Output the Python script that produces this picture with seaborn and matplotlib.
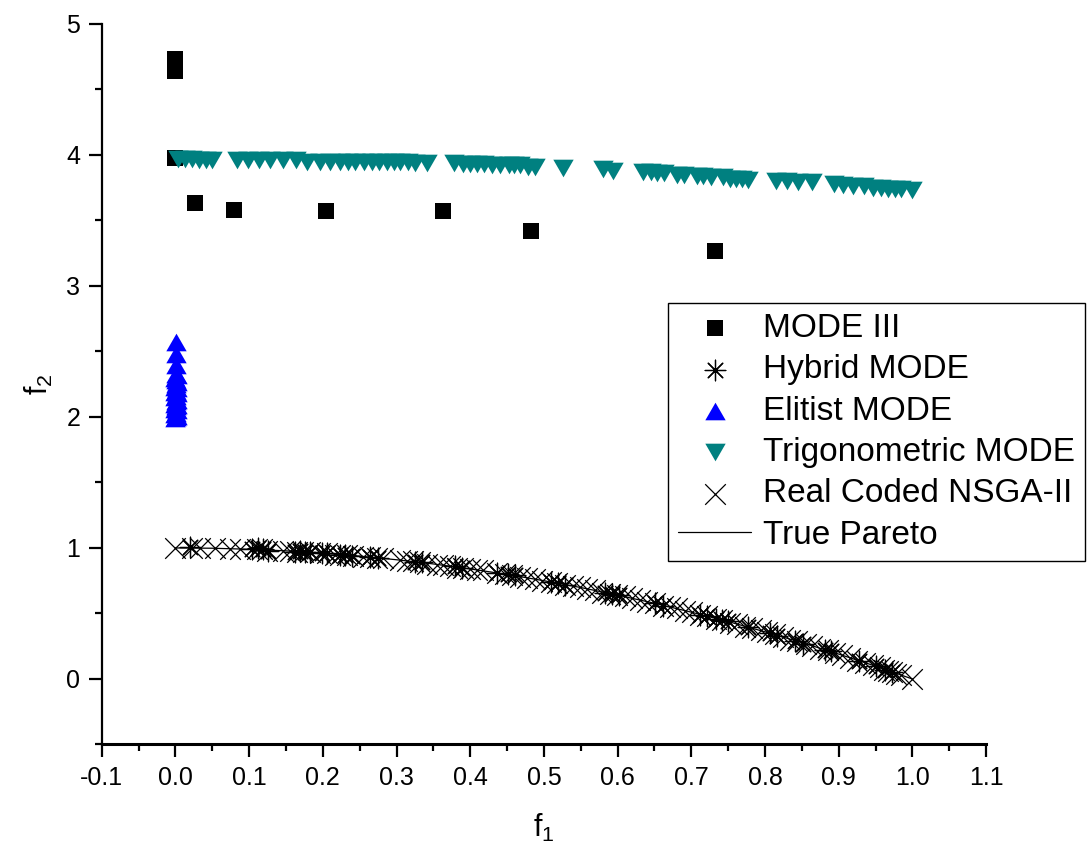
import matplotlib
matplotlib.use("Agg")
import matplotlib.pyplot as plt
from matplotlib.ticker import MultipleLocator, FormatStrFormatter
import seaborn as sns

# ---- data -------------------------------------------------------------
mode3_f1 = [0.0, 0.0, 0.0, 0.027, 0.080, 0.204, 0.363, 0.483, 0.732]
mode3_f2 = [4.73, 4.64, 3.98, 3.63, 3.58, 3.57, 3.57, 3.42, 3.27]

hybrid_f1 = [0.020, 0.104, 0.112, 0.119, 0.126, 0.162, 0.169, 0.176, 0.183,
             0.199, 0.206, 0.223, 0.230, 0.240, 0.264, 0.275, 0.325, 0.335,
             0.380, 0.389, 0.437, 0.451, 0.461, 0.509, 0.519, 0.529, 0.583,
             0.593, 0.602, 0.651, 0.661, 0.712, 0.722, 0.733, 0.742, 0.750,
             0.777, 0.807, 0.816, 0.841, 0.852, 0.882, 0.889, 0.927, 0.951,
             0.963, 0.973]
hybrid_f2 = [1.01, 0.99, 1.00, 0.99, 0.98, 0.97, 0.98, 0.97, 0.97,
             0.96, 0.96, 0.95, 0.95, 0.94, 0.93, 0.92, 0.89, 0.89,
             0.86, 0.85, 0.81, 0.80, 0.79, 0.74, 0.73, 0.72, 0.66,
             0.65, 0.64, 0.58, 0.56, 0.49, 0.48, 0.46, 0.45, 0.44,
             0.40, 0.35, 0.33, 0.29, 0.27, 0.22, 0.21, 0.14, 0.10,
             0.07, 0.05]

elitist_f1 = [0.000, 0.001, 0.002, 0.000, 0.001, 0.002, 0.000, 0.001, 0.002,
              0.000, 0.001, 0.002, 0.000, 0.001, 0.002, 0.000, 0.001, 0.002,
              0.000, 0.001, 0.002, 0.001, 0.000, 0.002, 0.001, 0.001, 0.001,
              0.001]
elitist_f2 = [1.99, 2.00, 2.01, 2.02, 2.03, 2.05, 2.06, 2.08, 2.09,
              2.10, 2.12, 2.13, 2.15, 2.16, 2.18, 2.19, 2.20, 2.22,
              2.23, 2.25, 2.27, 2.28, 2.30, 2.32, 2.33, 2.40, 2.48,
              2.57]

trig_f1 = [0.004, 0.013, 0.023, 0.032, 0.042, 0.050,
           0.084, 0.099, 0.113, 0.128, 0.146, 0.164, 0.179, 0.196, 0.210,
           0.223, 0.234, 0.244, 0.256, 0.267, 0.276, 0.287, 0.297, 0.305,
           0.316, 0.325, 0.342,
           0.378, 0.390, 0.400, 0.409, 0.419, 0.430, 0.441, 0.452, 0.460,
           0.468, 0.479, 0.488,
           0.526,
           0.580, 0.594,
           0.635, 0.645, 0.654, 0.663, 0.681, 0.690, 0.708, 0.716, 0.727,
           0.743, 0.753, 0.761, 0.769, 0.777,
           0.815, 0.830, 0.845, 0.864,
           0.893, 0.906, 0.920, 0.935, 0.946, 0.957, 0.967, 0.976, 0.985,
           1.000]
trig_f2 = [3.97, 3.97, 3.97, 3.96, 3.96, 3.96,
           3.96, 3.96, 3.96, 3.96, 3.96, 3.96, 3.95, 3.95, 3.95,
           3.95, 3.95, 3.95, 3.95, 3.95, 3.95, 3.95, 3.95, 3.95,
           3.95, 3.94, 3.94,
           3.94, 3.93, 3.93, 3.93, 3.93, 3.92, 3.92, 3.92, 3.92,
           3.92, 3.91, 3.91,
           3.90,
           3.89, 3.88,
           3.87, 3.87, 3.86, 3.86, 3.85, 3.85, 3.84, 3.84, 3.83,
           3.83, 3.82, 3.82, 3.82, 3.81,
           3.80, 3.80, 3.79, 3.79,
           3.78, 3.77, 3.76, 3.76, 3.75, 3.75, 3.74, 3.74, 3.74,
           3.73]

nsga_f1 = [0.000, 0.023, 0.033, 0.054, 0.074, 0.088, 0.111, 0.117, 0.124,
           0.146, 0.156, 0.165, 0.173, 0.183, 0.196, 0.206, 0.217, 0.224,
           0.233, 0.241, 0.255, 0.264, 0.274, 0.282, 0.305, 0.314, 0.322,
           0.332, 0.342, 0.355, 0.363, 0.373, 0.382, 0.390, 0.400, 0.409,
           0.418, 0.437, 0.447, 0.457, 0.468, 0.477, 0.488, 0.498, 0.509,
           0.518, 0.529, 0.539, 0.549, 0.559, 0.570, 0.579, 0.590, 0.599,
           0.610, 0.620, 0.631, 0.640, 0.651, 0.661, 0.671, 0.681, 0.692,
           0.701, 0.712, 0.722, 0.733, 0.742, 0.753, 0.762, 0.773, 0.783,
           0.794, 0.803, 0.814, 0.824, 0.834, 0.844, 0.855, 0.864, 0.875,
           0.885, 0.895, 0.905, 0.916, 0.925, 0.936, 0.946, 0.956, 0.962,
           0.967, 0.973, 0.978, 0.984, 1.000]
nsga_f2 = [1.00, 1.00, 1.00, 1.00, 0.99, 0.99, 0.99, 0.99, 0.98,
           0.98, 0.98, 0.97, 0.97, 0.97, 0.96, 0.96, 0.95, 0.95,
           0.95, 0.94, 0.93, 0.93, 0.92, 0.92, 0.91, 0.90, 0.90,
           0.89, 0.88, 0.87, 0.87, 0.86, 0.85, 0.85, 0.84, 0.83,
           0.83, 0.81, 0.80, 0.79, 0.78, 0.77, 0.76, 0.75, 0.74,
           0.73, 0.72, 0.71, 0.70, 0.69, 0.68, 0.66, 0.65, 0.64,
           0.63, 0.62, 0.60, 0.59, 0.58, 0.56, 0.55, 0.54, 0.52,
           0.51, 0.49, 0.48, 0.46, 0.45, 0.43, 0.42, 0.40, 0.39,
           0.37, 0.36, 0.34, 0.32, 0.30, 0.29, 0.27, 0.25, 0.23,
           0.22, 0.20, 0.18, 0.16, 0.14, 0.12, 0.11, 0.09, 0.07,
           0.06, 0.05, 0.04, 0.03, 0.00]

pareto_f1 = [0.00, 0.05, 0.10, 0.15, 0.20, 0.25, 0.30, 0.35, 0.40, 0.45, 0.50,
             0.55, 0.60, 0.65, 0.70, 0.75, 0.80, 0.85, 0.90, 0.95, 1.00]
pareto_f2 = [1.000, 0.998, 0.990, 0.978, 0.960, 0.938, 0.910, 0.878, 0.840,
             0.798, 0.750, 0.698, 0.640, 0.578, 0.510, 0.438, 0.360, 0.278,
             0.190, 0.098, 0.000]

series_order = ["MODE III", "Hybrid MODE", "Elitist MODE",
                "Trigonometric MODE", "Real Coded NSGA-II", "True Pareto"]
x_ticks = [-0.1, 0.0, 0.1, 0.2, 0.3, 0.4, 0.5, 0.6, 0.7, 0.8, 0.9, 1.0, 1.1]
y_ticks = [0, 1, 2, 3, 4, 5]

# ---- style ------------------------------------------------------------
sns.set_style("white")
plt.rcParams["font.family"] = ["Liberation Sans", "DejaVu Sans"]
plt.rcParams["mathtext.default"] = "regular"
plt.rcParams["axes.unicode_minus"] = False
for key in ("text.color", "axes.labelcolor", "xtick.color", "ytick.color",
            "axes.edgecolor"):
    plt.rcParams[key] = "black"

fig = plt.figure(figsize=(10.88, 8.56), dpi=100)
ax = fig.add_axes([0.0935, 0.1303, 0.8128, 0.8417])

tri_down = [(-1, 0.866), (1, 0.866), (0, -0.866)]
tri_up = [(-1, -0.866), (1, -0.866), (0, 0.866)]
asterisk = (8, 2, 0)

sns.lineplot(x=pareto_f1, y=pareto_f2, color="black", linewidth=0.9,
             sort=False, label="True Pareto", legend=False, ax=ax, zorder=2)
sns.scatterplot(x=hybrid_f1, y=hybrid_f2, marker=asterisk, s=220,
                color="black", linewidth=0.9, label="Hybrid MODE",
                legend=False, ax=ax, zorder=3)
sns.scatterplot(x=nsga_f1, y=nsga_f2, marker="x", s=220,
                color="black", linewidth=0.9, label="Real Coded NSGA-II",
                legend=False, ax=ax, zorder=3)
sns.scatterplot(x=mode3_f1, y=mode3_f2, marker="s", s=117,
                color="black", edgecolor="black", linewidth=0,
                label="MODE III", legend=False, ax=ax, zorder=4)
sns.scatterplot(x=elitist_f1, y=elitist_f2, marker=tri_up, s=215,
                color="#0000FF", edgecolor="#0000FF", linewidth=0,
                label="Elitist MODE", legend=False, ax=ax, zorder=4)
sns.scatterplot(x=trig_f1, y=trig_f2, marker=tri_down, s=215,
                color="#008080", edgecolor="#008080", linewidth=0,
                label="Trigonometric MODE", legend=False, ax=ax, zorder=5)

# ---- axes -------------------------------------------------------------
ax.set_xlim(-0.1, 1.1)
ax.set_ylim(-0.5, 5.0)
ax.set_xticks(x_ticks)
ax.set_yticks(y_ticks)
ax.xaxis.set_major_formatter(FormatStrFormatter("%.1f"))
ax.xaxis.set_minor_locator(MultipleLocator(0.05))
ax.yaxis.set_minor_locator(MultipleLocator(0.5))
ax.tick_params(which="both", direction="out", bottom=True, left=True,
               top=False, right=False, color="black", labelcolor="black",
               width=1.6)
ax.tick_params(which="major", length=9.5, labelsize=18, pad=6)
ax.tick_params(which="minor", length=5)
ax.grid(False)

for side in ("top", "right"):
    ax.spines[side].set_visible(False)
ax.spines["left"].set_color("black")
ax.spines["left"].set_linewidth(1.6)
ax.spines["bottom"].set_color("black")
ax.spines["bottom"].set_linewidth(2.2)

ax.set_xlabel(r"$f_1$", fontsize=22, labelpad=16)
ax.set_ylabel(r"$f_2$", fontsize=22, labelpad=8)

# ---- legend -----------------------------------------------------------
handles, labels = ax.get_legend_handles_labels()
lookup = dict(zip(labels, handles))
leg = fig.legend([lookup[k] for k in series_order], series_order,
                 loc="upper left", bbox_to_anchor=(668 / 1088, 1 - 303 / 856),
                 bbox_transform=fig.transFigure, fontsize=24,
                 frameon=True, fancybox=False, shadow=False,
                 edgecolor="black", framealpha=1, borderaxespad=0,
                 borderpad=0.3, labelspacing=0.31, handlelength=2.2,
                 handletextpad=0.36, scatterpoints=1)
leg.get_frame().set_linewidth(1.0)

fig.savefig("out.png", dpi=100, facecolor="white")
